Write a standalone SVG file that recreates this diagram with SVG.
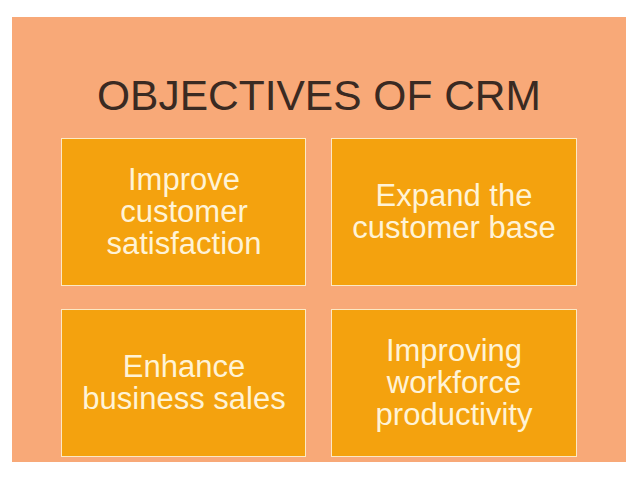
<svg xmlns="http://www.w3.org/2000/svg" width="638" height="479" viewBox="0 0 638 479">
<style>
.b{fill:#F4A20E;stroke:#FCE9C4;stroke-width:1}
.t{font-family:"Liberation Sans",Arial,sans-serif;font-size:31px;fill:#FFF3D6;text-anchor:middle}
</style>
<rect width="638" height="479" fill="#fff"/>
<rect x="12" y="17" width="614" height="445" fill="#F8A978"/>
<text x="319" y="110" font-family="Liberation Sans,Arial,sans-serif" font-size="42.5" fill="#3A2A22" text-anchor="middle">OBJECTIVES OF CRM</text>
<g id="n1"><rect class="b" x="61.5" y="138.5" width="244" height="147"/><text class="t" x="184" y="190">Improve</text><text class="t" x="184" y="222">customer</text><text class="t" x="184" y="254">satisfaction</text></g>
<g id="n2"><rect class="b" x="331.5" y="138.5" width="245" height="147"/><text class="t" x="454" y="206">Expand the</text><text class="t" x="454" y="238">customer base</text></g>
<g id="n3"><rect class="b" x="61.5" y="309.5" width="244" height="147"/><text class="t" x="184" y="377">Enhance</text><text class="t" x="184" y="409">business sales</text></g>
<g id="n4"><rect class="b" x="331.5" y="309.5" width="245" height="147"/><text class="t" x="454" y="361">Improving</text><text class="t" x="454" y="393">workforce</text><text class="t" x="454" y="425">productivity</text></g>
<g id="connectors"/>
</svg>
